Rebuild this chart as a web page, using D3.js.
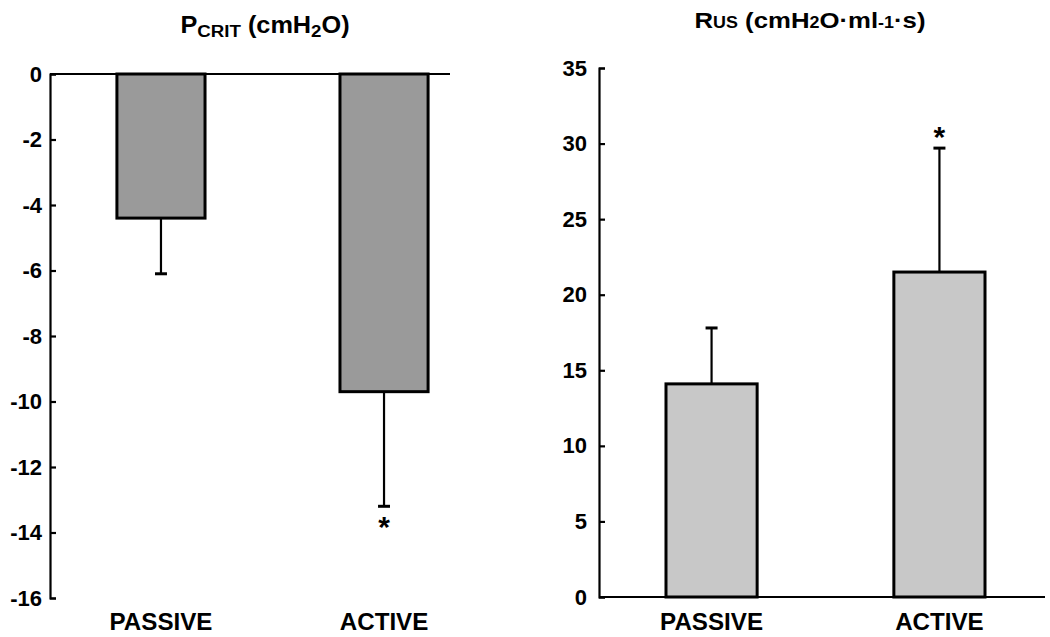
<!DOCTYPE html>
<html>
<head>
<meta charset="utf-8">
<script src="https://cdn.jsdelivr.net/npm/d3@7"></script>
<style>
  html, body { margin: 0; padding: 0; background: #fff; }
  svg text { font-family: "Liberation Sans", Arial, Helvetica, sans-serif; font-weight: bold; fill: #000; }
</style>
</head>
<body>
<svg id="chart" width="1050" height="637"></svg>
<script>
// ---- data ----
const categories = ["PASSIVE", "ACTIVE"];
const pcritMean = [-4.4, -9.7];
const pcritErr = [-6.1, -13.2];
const pcritSig = [false, true];
const pcritTicks = [0, -2, -4, -6, -8, -10, -12, -14, -16];
const rusMean = [14.1, 21.5];
const rusErr = [17.8, 29.7];
const rusSig = [false, true];
const rusTicks = [0, 5, 10, 15, 20, 25, 30, 35];

const svg = d3.select("#chart");

function panel(opts) {
  const g = svg.append("g");
  const y = d3.scaleLinear().domain(opts.domain).range(opts.yRange);
  const x = d3.scaleBand().domain(categories)
    .range(opts.xRange).paddingInner(opts.padIn).paddingOuter(opts.padOut);

  // bars
  g.selectAll("rect.bar").data(categories).join("rect")
    .attr("class", "bar")
    .attr("x", d => x(d))
    .attr("width", x.bandwidth())
    .attr("y", (d, i) => Math.min(y(0), y(opts.mean[i])))
    .attr("height", (d, i) => Math.abs(y(opts.mean[i]) - y(0)))
    .attr("fill", opts.fill)
    .attr("stroke", "#000")
    .attr("stroke-width", 3);

  // error bars
  const cx = d => x(d) + x.bandwidth() / 2;
  g.selectAll("line.err").data(categories).join("line")
    .attr("x1", cx).attr("x2", cx)
    .attr("y1", (d, i) => y(opts.mean[i]))
    .attr("y2", (d, i) => y(opts.err[i]))
    .attr("stroke", "#000").attr("stroke-width", 2.2);
  g.selectAll("line.cap").data(categories).join("line")
    .attr("x1", d => cx(d) - 6).attr("x2", d => cx(d) + 6)
    .attr("y1", (d, i) => y(opts.err[i]))
    .attr("y2", (d, i) => y(opts.err[i]))
    .attr("stroke", "#000").attr("stroke-width", 3);

  // significance stars
  g.selectAll("text.star").data(categories.filter((d, i) => opts.sig[i])).join("text")
    .attr("class", "star")
    .attr("x", cx)
    .attr("y", d => y(opts.err[categories.indexOf(d)]) + opts.starDy)
    .attr("text-anchor", "middle")
    .attr("font-size", 30)
    .text("*");

  // zero / baseline line
  g.append("line")
    .attr("x1", opts.xRange[0]).attr("x2", opts.baseEnd)
    .attr("y1", y(0)).attr("y2", y(0))
    .attr("stroke", "#000").attr("stroke-width", 2.2);

  // y axis
  const axis = d3.axisLeft(y).tickValues(opts.ticks)
    .tickSizeInner(-6).tickSizeOuter(-6).tickPadding(opts.tickPad)
    .tickFormat(d => String(d));
  const ax = g.append("g").attr("transform", `translate(${opts.xRange[0]},0)`).call(axis);
  ax.select(".domain").attr("stroke", "#000").attr("stroke-width", 2.2);
  ax.selectAll(".tick line").attr("stroke", "#000").attr("stroke-width", 2.2);
  ax.selectAll(".tick text")
    .attr("font-family", "Liberation Sans, Arial, sans-serif")
    .attr("font-weight", "bold")
    .attr("font-size", 22)
    .attr("fill", "#000");

  // category labels
  g.selectAll("text.cat").data(categories).join("text")
    .attr("class", "cat")
    .attr("transform", d => `translate(${cx(d)},630) scale(1.05,1)`)
    .attr("text-anchor", "middle")
    .attr("font-size", 23)
    .text(d => d);

  return { g, x, y };
}

panel({
  domain: [0, -16], yRange: [74, 598],
  xRange: [50, 495], padIn: 0.605, padOut: 0.3, baseEnd: 450,
  mean: pcritMean, err: pcritErr, sig: pcritSig, ticks: pcritTicks,
  fill: "#9a9a9a", tickPad: 8, starDy: 31
});

panel({
  domain: [0, 35], yRange: [597, 68],
  xRange: [599, 1052], padIn: 0.6, padOut: 0.294, baseEnd: 1045,
  mean: rusMean, err: rusErr, sig: rusSig, ticks: rusTicks,
  fill: "#c8c8c8", tickPad: 12, starDy: -1
});

// titles
const t1 = svg.append("text")
  .attr("transform", "translate(265,33) scale(1.1,1)")
  .attr("text-anchor", "middle").attr("font-size", 23);
t1.append("tspan").text("P");
t1.append("tspan").attr("font-size", 17).attr("dy", 4).text("CRIT");
t1.append("tspan").attr("dy", -4).text(" (cmH");
t1.append("tspan").attr("font-size", 17).attr("dy", 4).text("2");
t1.append("tspan").attr("dy", -4).text("O)");

const t2 = svg.append("text")
  .attr("transform", "translate(810,28) scale(1.12,1)")
  .attr("text-anchor", "middle").attr("font-size", 23);
t2.append("tspan").text("R");
t2.append("tspan").attr("font-size", 16).text("US");
t2.append("tspan").text(" (cmH");
t2.append("tspan").attr("font-size", 16).text("2");
t2.append("tspan").text("O·ml");
t2.append("tspan").attr("font-size", 16).text("-1");
t2.append("tspan").text("·s)");
</script>
</body>
</html>
